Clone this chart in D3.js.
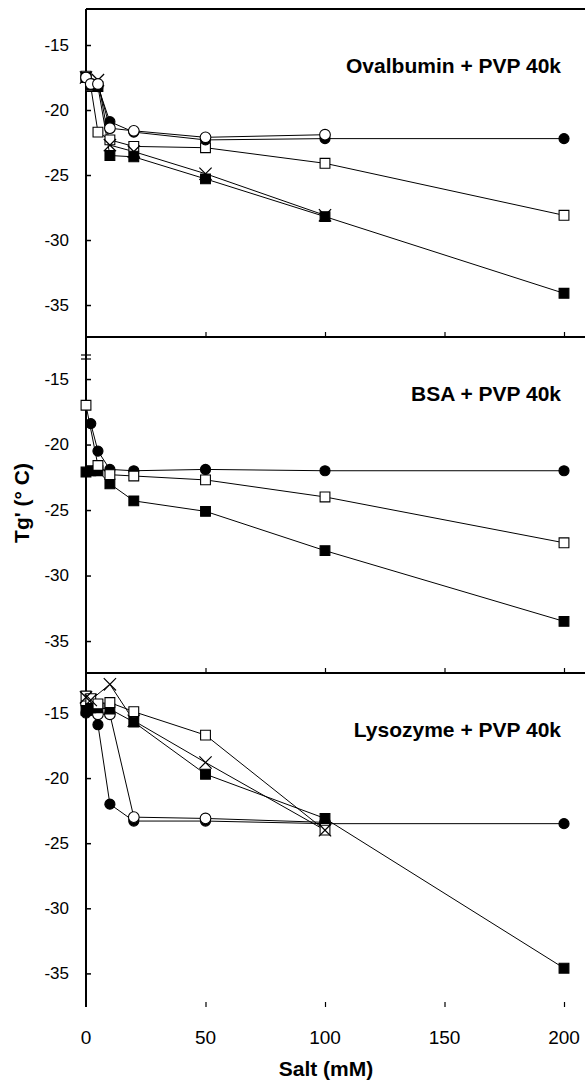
<!DOCTYPE html>
<html>
<head>
<meta charset="utf-8">
<title>Tg' vs salt</title>
<style>
body { margin: 0; background: #fff; }
text { font-family: Arial, "Liberation Sans", Helvetica, sans-serif; fill: #000; }
</style>
</head>
<body>
<script src="https://cdn.jsdelivr.net/npm/d3@7/dist/d3.min.js"></script>
<script>

var width = 585, height = 1083;

// salt concentrations (mM)
var salt = [0, 2, 5, 10, 20, 50, 100, 200];

// Ovalbumin + PVP 40k
var ovaFilledCircle = [-17.5, -18.0, -18.2, -20.9, -21.7, -22.3, -22.2, -22.2];
var ovaOpenCircle   = [-17.5, -18.0, -18.0, -21.4, -21.6, -22.1, -21.9, null];
var ovaOpenSquare   = [-17.4, -18.2, -21.7, -22.3, -22.8, -22.9, -24.1, -28.1];
var ovaFilledSquare = [-17.5, -18.1, -18.2, -23.5, -23.6, -25.3, -28.2, -34.1];
var ovaCross        = [-17.5, null,  -17.7, -22.7, -23.2, -24.9, -28.1, null];

// BSA + PVP 40k
var bsaFilledCircle = [null,  -18.4, -20.5, -21.9, -22.0, -21.9, -22.0, -22.0];
var bsaOpenSquare   = [-17.0, null,  -21.6, -22.3, -22.4, -22.7, -24.0, -27.5];
var bsaFilledSquare = [-22.1, -22.0, -22.0, -23.0, -24.3, -25.1, -28.1, -33.5];

// Lysozyme + PVP 40k
var lysFilledCircle = [-15.0, -14.8, -15.9, -22.0, -23.3, -23.3, -23.5, -23.5];
var lysOpenCircle   = [-14.3, -14.5, -15.1, -15.1, -23.0, -23.1, -23.4, null];
var lysOpenSquare   = [-13.7, -13.9, -14.3, -14.2, -14.9, -16.7, -24.0, null];
var lysFilledSquare = [-14.8, -14.6, -14.6, -14.7, -15.7, -19.7, -23.1, -34.6];
var lysCross        = [-13.8, -14.0, null,  -12.8, -15.6, -18.8, -24.0, null];

var xTicks = [0, 50, 100, 150, 200];
var yTicks = [-15, -20, -25, -30, -35];

var panels = [
	{ title: "Ovalbumin + PVP 40k", top: 9,   bottom: 337,  yDomain: [-37.46, -12.23],
	  series: [[ovaOpenSquare, "os"], [ovaFilledSquare, "fs"], [ovaCross, "x"], [ovaFilledCircle, "fc"], [ovaOpenCircle, "oc"]] },
	{ title: "BSA + PVP 40k",       top: 337, bottom: 673,  yDomain: [-37.44, -11.79],
	  series: [[bsaFilledSquare, "fs"], [bsaFilledCircle, "fc"], [bsaOpenSquare, "os"]] },
	{ title: "Lysozyme + PVP 40k",  top: 673, bottom: 1007, yDomain: [-37.58, -11.93],
	  series: [[lysFilledCircle, "fc"], [lysOpenCircle, "oc"], [lysFilledSquare, "fs"], [lysOpenSquare, "os"], [lysCross, "x"]] }
];

var x = d3.scaleLinear().domain([0, 200]).range([86, 564]);

var svg = d3.select("body").append("svg")
	.attr("width", width)
	.attr("height", height);

var symbolTypes = {
	fc: { type: d3.symbolCircle, size: 80,  fill: "#000" },
	oc: { type: d3.symbolCircle, size: 90,  fill: "#fff" },
	fs: { type: d3.symbolSquare, size: 96,  fill: "#000" },
	os: { type: d3.symbolSquare, size: 96,  fill: "#fff" },
	x:  { type: d3.symbolTimes,  size: 100, fill: "none" }
};

panels.forEach(function(p) {
	var y = d3.scaleLinear().domain(p.yDomain).range([p.bottom, p.top]);
	var g = svg.append("g");

	// y axis, ticks pointing inward
	g.append("g")
		.attr("transform", "translate(" + x(0) + ",0)")
		.call(d3.axisLeft(y).tickValues(yTicks).tickSize(-5).tickPadding(17).tickFormat(function(d) { return String(d); }))
		.call(function(a) {
			a.select(".domain").remove();
			a.selectAll("line").attr("stroke", "#000").attr("stroke-width", 1.5);
			a.selectAll("text").style("font-size", "17px").attr("font-family", null);
		});

	// x ticks on the panel bottom, pointing up
	g.append("g")
		.attr("transform", "translate(0," + p.bottom + ")")
		.call(d3.axisBottom(x).tickValues(xTicks.slice(1)).tickSize(-5).tickFormat(""))
		.call(function(a) {
			a.select(".domain").remove();
			a.selectAll("line").attr("stroke", "#000").attr("stroke-width", 1.2);
		});

	// frame lines
	g.append("line").attr("x1", x(0)).attr("x2", width).attr("y1", p.top).attr("y2", p.top)
		.attr("stroke", "#000").attr("stroke-width", 2);
	g.append("line").attr("x1", x(0)).attr("x2", x(0)).attr("y1", p.top).attr("y2", p.bottom)
		.attr("stroke", "#000").attr("stroke-width", 2);

	g.append("text")
		.attr("x", 561).attr("y", p.top + 64)
		.attr("text-anchor", "end")
		.style("font-size", "21px").style("font-weight", "bold")
		.text(p.title);

	var line = d3.line().x(function(d) { return x(d[0]); }).y(function(d) { return y(d[1]); });

	var sets = p.series.map(function(s) {
		return { pts: salt.map(function(v, i) { return [v, s[0][i]]; }).filter(function(d) { return d[1] !== null; }), kind: s[1] };
	});

	g.selectAll("path.series").data(sets).enter().append("path")
		.attr("class", "series")
		.attr("d", function(d) { return line(d.pts); })
		.attr("fill", "none").attr("stroke", "#000").attr("stroke-width", 1);

	sets.forEach(function(s) {
		var st = symbolTypes[s.kind];
		g.selectAll(null).data(s.pts).enter().append("path")
			.attr("transform", function(d) { return "translate(" + x(d[0]) + "," + y(d[1]) + ")"; })
			.attr("d", d3.symbol().type(st.type).size(st.size))
			.attr("fill", st.fill)
			.attr("stroke", "#000")
			.attr("stroke-width", s.kind == "x" ? 1.2 : 1.1);
	});
});

// axis break marks on the middle panel
[355, 359].forEach(function(yy) {
	svg.append("line").attr("x1", 81).attr("x2", 91).attr("y1", yy).attr("y2", yy)
		.attr("stroke", "#000").attr("stroke-width", 1.2);
});

// shared x tick labels
svg.append("g").selectAll("text").data(xTicks).enter().append("text")
	.attr("x", function(d) { return x(d); })
	.attr("y", 1044)
	.attr("text-anchor", "middle")
	.style("font-size", "19px")
	.text(function(d) { return d; });

svg.append("text")
	.attr("x", 326).attr("y", 1076)
	.attr("text-anchor", "middle")
	.style("font-size", "21px").style("font-weight", "bold")
	.text("Salt (mM)");

svg.append("text")
	.attr("transform", "translate(29,503) rotate(-90)")
	.attr("text-anchor", "middle")
	.style("font-size", "21px").style("font-weight", "bold")
	.text("Tg' (\u00B0 C)");

</script>
</body>
</html>
